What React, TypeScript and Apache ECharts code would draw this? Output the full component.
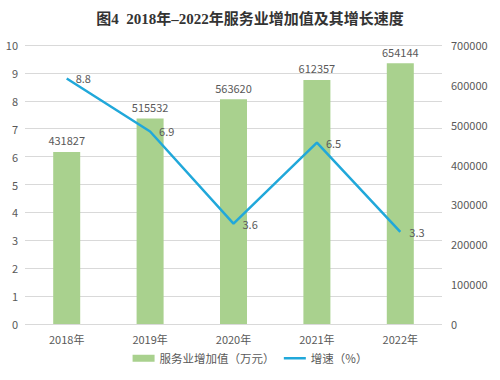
import React, { useEffect, useRef } from "react";
import * as echarts from "echarts";

const categories = ["2018年", "2019年", "2020年", "2021年", "2022年"];
const valueAdded = [431827, 515532, 563620, 612357, 654144];
const growthRate = [8.8, 6.9, 3.6, 6.5, 3.3];
const titleText = "图4  2018年–2022年服务业增加值及其增长速度";
const barName = "服务业增加值（万元）";
const lineName = "增速（%）";

const FONT = "'Noto Sans CJK SC', 'Liberation Sans', sans-serif";
const GREY = "#595959";
const BLUE = "#21a8da";

export default function App() {
  const ref = useRef<HTMLDivElement>(null);
  useEffect(() => {
    if (!ref.current) return;
    const chart = echarts.init(ref.current, null, { renderer: "svg" });
    chart.setOption({
      animation: false,
      backgroundColor: "#ffffff",
      title: {
        text: titleText,
        left: "center",
        top: 6,
        textStyle: {
          fontFamily: "'Liberation Serif', 'Noto Sans CJK SC', serif",
          fontWeight: "bold",
          fontSize: 15,
          color: "#333333",
        },
      },
      legend: {
        bottom: 11,
        left: "center",
        itemWidth: 22,
        itemHeight: 7,
        itemGap: 8,
        textStyle: { fontFamily: FONT, fontSize: 11.5, color: GREY },
        data: [
          { name: barName, icon: "rect" },
          {
            name: lineName,
            itemStyle: { color: "transparent", borderWidth: 0, opacity: 0 },
            lineStyle: { color: BLUE, width: 2.5 },
          },
        ],
      },
      grid: { left: 25, right: 58, top: 45, bottom: 56 },
      xAxis: {
        type: "category",
        data: categories,
        axisLine: { show: false },
        axisTick: { show: false },
        axisLabel: { fontFamily: FONT, fontSize: 11, color: GREY, margin: 9 },
      },
      yAxis: [
        {
          type: "value",
          min: 0,
          max: 10,
          interval: 1,
          axisLine: { show: false },
          axisTick: { show: false },
          axisLabel: { fontFamily: FONT, fontSize: 11, color: GREY, margin: 7 },
          splitLine: { lineStyle: { color: "#d9d9d9", width: 1 } },
        },
        {
          type: "value",
          min: 0,
          max: 700000,
          interval: 100000,
          axisLine: { show: false },
          axisTick: { show: false },
          axisLabel: {
            fontFamily: FONT,
            fontSize: 11,
            color: GREY,
            margin: 9,
            formatter: (v: number) => String(v),
          },
          splitLine: { show: false },
        },
      ],
      series: [
        {
          name: barName,
          type: "bar",
          yAxisIndex: 1,
          data: valueAdded,
          barWidth: 27,
          itemStyle: { color: "#a9d18e" },
          label: {
            show: true,
            position: "top",
            distance: 6,
            fontFamily: FONT,
            fontSize: 11,
            color: GREY,
          },
        },
        {
          name: lineName,
          type: "line",
          yAxisIndex: 0,
          data: growthRate,
          symbol: "circle",
          symbolSize: 0,
          showSymbol: true,
          lineStyle: { color: BLUE, width: 2.5 },
          itemStyle: { color: BLUE },
          label: {
            show: true,
            position: "right",
            distance: 9,
            fontFamily: FONT,
            fontSize: 11,
            color: GREY,
          },
        },
      ],
    });
    return () => chart.dispose();
  }, []);
  return <div ref={ref} style={{ width: 500, height: 380, position: "absolute", left: 0, top: 0 }} />;
}
